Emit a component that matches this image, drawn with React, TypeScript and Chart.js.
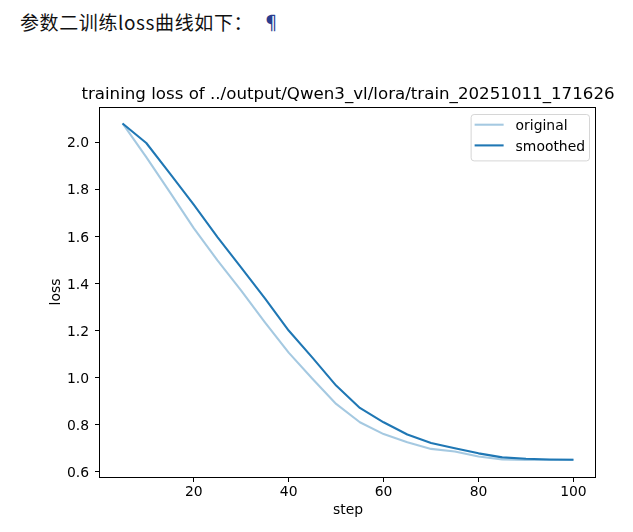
import React, { useEffect, useRef } from "react";
import { Chart, registerables } from "chart.js";

Chart.register(...registerables);

const heading = "参数二训练loss曲线如下：";
const pilcrow = "¶";
const chartTitle = "training loss of ../output/Qwen3_vl/lora/train_20251011_171626";
const xLabel = "step";
const yLabel = "loss";
const seriesNames = ["original", "smoothed"];

const steps = [5, 10, 15, 20, 25, 30, 35, 40, 45, 50, 55, 60, 65, 70, 75, 80, 85, 90, 95, 100];
const originalLoss = [
  2.08, 1.937, 1.787, 1.635, 1.498, 1.37, 1.235, 1.106, 0.995, 0.888,
  0.81, 0.76, 0.725, 0.697, 0.686, 0.665, 0.652, 0.65, 0.65, 0.651,
];
const smoothedLoss = [
  2.08, 1.997, 1.867, 1.735, 1.597, 1.467, 1.337, 1.2, 1.085, 0.966,
  0.871, 0.81, 0.758, 0.722, 0.7, 0.678, 0.661, 0.655, 0.652, 0.651,
];
const xTicks = [20, 40, 60, 80, 100];
const yTicks = [0.6, 0.8, 1.0, 1.2, 1.4, 1.6, 1.8, 2.0];

const FONT = "'DejaVu Sans', sans-serif";
const BLUE = "#1f77b4";
const BLUE_LIGHT = "rgba(31,119,180,0.4)";

const framePlugin = {
  id: "frame",
  afterDatasetsDraw(chart: any) {
    const { ctx, chartArea: a } = chart;
    ctx.save();
    ctx.strokeStyle = "#000";
    ctx.lineWidth = 1;
    ctx.strokeRect(a.left - 0.5, a.top + 0.5, a.right - a.left, a.bottom - a.top);
    ctx.restore();
  },
};

const titlePlugin = {
  id: "axTitle",
  afterDraw(chart: any) {
    const { ctx, chartArea: a } = chart;
    ctx.save();
    ctx.font = `16.67px ${FONT}`;
    ctx.fillStyle = "#000";
    ctx.textAlign = "center";
    ctx.textBaseline = "alphabetic";
    ctx.fillText(chartTitle, (a.left + a.right) / 2, a.top - 8.3);
    ctx.restore();
  },
};

const legendPlugin = {
  id: "mplLegend",
  afterDraw(chart: any) {
    const { ctx, chartArea: a } = chart;
    const ds = chart.data.datasets;
    ctx.save();
    ctx.font = `13.9px ${FONT}`;
    let tw = 0;
    ds.forEach((d: any) => { tw = Math.max(tw, ctx.measureText(d.label).width); });
    const w = 45 + tw + 4;
    const h = 46.4;
    const right = a.right - 7;
    const left = right - w;
    const top = a.top + 7;
    ctx.beginPath();
    (ctx as any).roundRect(left + 0.5, top + 0.5, w, h, 3);
    ctx.fillStyle = "rgba(255,255,255,0.8)";
    ctx.fill();
    ctx.strokeStyle = "rgba(204,204,204,0.8)";
    ctx.lineWidth = 1;
    ctx.stroke();
    ds.forEach((d: any, i: number) => {
      const y = top + 10.7 + i * 20.7;
      ctx.beginPath();
      ctx.moveTo(left + 4, y);
      ctx.lineTo(left + 33, y);
      ctx.strokeStyle = d.borderColor;
      ctx.lineWidth = 2.08;
      ctx.stroke();
      ctx.fillStyle = "#000";
      ctx.textAlign = "left";
      ctx.textBaseline = "middle";
      ctx.fillText(d.label, left + 45, y + 1.5);
    });
    ctx.restore();
  },
};

export default function App() {
  const ref = useRef<HTMLCanvasElement>(null);

  useEffect(() => {
    const canvas = ref.current;
    if (!canvas) return;
    const tickFont = { family: FONT, size: 13.9 };
    const chart = new Chart(canvas, {
      type: "line",
      data: {
        datasets: [
          {
            label: seriesNames[0],
            data: steps.map((s, i) => ({ x: s, y: originalLoss[i] })),
            borderColor: BLUE_LIGHT,
            backgroundColor: BLUE_LIGHT,
            borderWidth: 2.08,
            pointRadius: 0,
            tension: 0,
            order: 2,
            borderJoinStyle: "round",
          },
          {
            label: seriesNames[1],
            data: steps.map((s, i) => ({ x: s, y: smoothedLoss[i] })),
            borderColor: BLUE,
            backgroundColor: BLUE,
            borderWidth: 2.08,
            pointRadius: 0,
            tension: 0,
            order: 1,
            borderJoinStyle: "round",
          },
        ],
      },
      options: {
        responsive: false,
        animation: false,
        devicePixelRatio: 1,
        layout: { padding: { left: 0, top: 107, right: 37, bottom: 0 } },
        plugins: {
          legend: { display: false },
          tooltip: { enabled: false },
          title: { display: false },
        },
        scales: {
          x: {
            type: "linear",
            min: 0.25,
            max: 104.75,
            afterFit: (s: any) => { s.height = 55; },
            afterBuildTicks: (s: any) => { s.ticks = xTicks.map((v) => ({ value: v })); },
            grid: { display: true, drawOnChartArea: false, drawTicks: true, tickLength: 5, color: "#000", lineWidth: 1 },
            border: { display: false },
            ticks: { font: tickFont, color: "#000", padding: 2, maxRotation: 0, autoSkip: false, callback: (v: any) => String(v) },
            title: { display: true, text: xLabel, font: tickFont, color: "#000", padding: { top: 0, bottom: 13 } },
          },
          y: {
            type: "linear",
            min: 0.5775,
            max: 2.15,
            afterFit: (s: any) => { s.width = 100; },
            afterBuildTicks: (s: any) => { s.ticks = yTicks.map((v) => ({ value: v })); },
            grid: { display: true, drawOnChartArea: false, drawTicks: true, tickLength: 5, color: "#000", lineWidth: 1 },
            border: { display: false },
            ticks: { font: tickFont, color: "#000", padding: 6, labelOffset: 1.5, autoSkip: false, callback: (v: any) => Number(v).toFixed(1) },
            title: { display: true, text: yLabel, font: tickFont, color: "#000", padding: { top: 47.7, bottom: 0 } },
          },
        },
      } as any,
      plugins: [framePlugin, titlePlugin, legendPlugin],
    });
    return () => chart.destroy();
  }, []);

  return (
    <div style={{ position: "fixed", left: 0, top: 0, width: 633, height: 532, background: "#fff", overflow: "hidden" }}>
      <div
        style={{
          position: "absolute",
          left: 20,
          top: 10,
          fontFamily: "'Noto Sans CJK SC', sans-serif",
          fontSize: 19,
          fontWeight: 400,
          letterSpacing: "0.6px",
          lineHeight: "24px",
          color: "#111",
          whiteSpace: "nowrap",
        }}
      >
        {heading}
      </div>
      <div
        style={{
          position: "absolute",
          left: 262,
          top: 10,
          fontFamily: "'Noto Sans CJK SC', sans-serif",
          fontSize: 19,
          lineHeight: "24px",
          color: "#2a3d8f",
        }}
      >
        {pilcrow}
      </div>
      <canvas ref={ref} width={633} height={532} style={{ position: "absolute", left: 0, top: 0, width: 633, height: 532 }} />
    </div>
  );
}
